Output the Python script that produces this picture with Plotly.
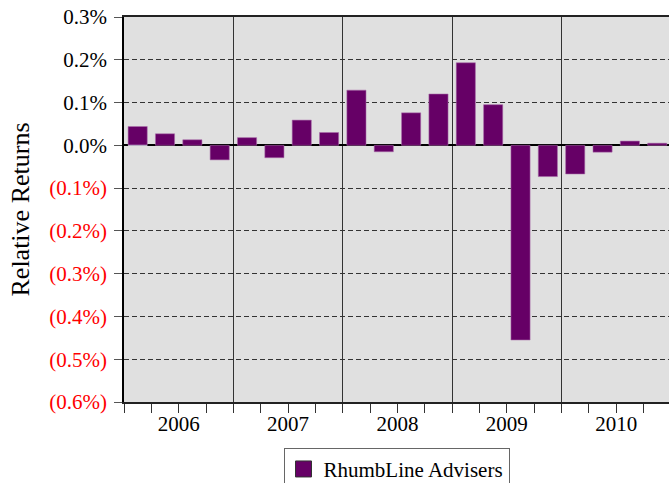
import plotly.graph_objects as go

# Quarterly relative returns (percent), 2006 Q1 through 2010 Q4
years = ["2006", "2007", "2008", "2009", "2010"]
quarters_per_year = 4
returns = [
    0.044, 0.027, 0.013, -0.034,    # 2006
    0.018, -0.029, 0.059, 0.030,    # 2007
    0.129, -0.015, 0.076, 0.120,    # 2008
    0.193, 0.095, -0.455, -0.073,   # 2009
    -0.067, -0.016, 0.010, 0.005,   # 2010
]
series_name = "RhumbLine Advisers"
y_ticks = [0.3, 0.2, 0.1, 0.0, -0.1, -0.2, -0.3, -0.4, -0.5, -0.6]

serif = "Liberation Serif"
bar_color = "#660066"

n = len(returns)
x_pos = list(range(n))
year_bounds = [i * quarters_per_year - 0.5 for i in range(1, len(years))]
quarter_bounds = [i - 0.5 for i in range(n + 1)]
year_centers = [i * quarters_per_year + (quarters_per_year - 1) / 2 for i in range(len(years))]


def fmt(v):
    if v < 0:
        return f'<span style="color:red">({abs(v):.1f}%)</span>'
    return f"{v:.1f}%"


x_range = [-0.5, 19.43]

fig = go.Figure()
fig.add_trace(go.Bar(
    x=x_pos, y=returns, name=series_name, width=0.7, legendgroup="s",
    marker=dict(color=bar_color, line=dict(color="rgba(170,110,170,0.7)", width=0.8)),
    showlegend=False,
))
# legend entry with a larger square swatch
fig.add_trace(go.Scatter(
    x=[None], y=[None], mode="markers", name=series_name, legendgroup="s",
    marker=dict(symbol="square", size=16, color=bar_color, line=dict(color="#333", width=1)),
    showlegend=True,
))

fig.update_layout(
    width=669, height=483,
    margin=dict(l=124, r=0, t=17, b=81, autoexpand=False),
    paper_bgcolor="white", plot_bgcolor="#e0e0e0",
    font=dict(family=serif, size=21, color="black"),
    bargap=0.3,
    xaxis=dict(
        range=x_range, tickmode="array", tickvals=year_bounds,
        showticklabels=False, ticks="outside", ticklen=9, tickcolor="#333",
        showgrid=True, gridcolor="#333", gridwidth=1,
        minor=dict(tickmode="array", tickvals=quarter_bounds, ticks="outside",
                   ticklen=9, tickcolor="#333", showgrid=False),
        zeroline=False, showline=True, linecolor="#222", linewidth=1.5, mirror=True,
    ),
    xaxis2=dict(
        overlaying="x", anchor="y", side="bottom", range=x_range,
        tickmode="array", tickvals=year_centers, ticktext=years,
        ticks="outside", ticklen=3, tickcolor="rgba(0,0,0,0)",
        showgrid=False, zeroline=False, showline=False,
        tickfont=dict(family=serif, size=21, color="black"),
    ),
    yaxis=dict(
        range=[-0.6, 0.3], tickmode="array", tickvals=y_ticks,
        ticktext=[fmt(v) for v in y_ticks],
        ticks="outside", ticklen=8, tickcolor="#555", ticklabelstandoff=3,
        showgrid=True, gridcolor="#333", gridwidth=1, griddash="5px,3px",
        zeroline=True, zerolinecolor="black", zerolinewidth=2,
        showline=True, linecolor="black", linewidth=1.5,
        title=dict(text="Relative Returns", font=dict(family=serif, size=26), standoff=12),
        tickfont=dict(family=serif, size=21),
    ),
    legend=dict(
        orientation="h", x=0.5, xanchor="center", y=-0.119, yanchor="top",
        bordercolor="#666", borderwidth=1, bgcolor="white",
        itemsizing="trace",
        font=dict(family=serif, size=21),
    ),
)

# invisible trace to activate the label axis
fig.add_trace(go.Bar(x=[0], y=[0], xaxis="x2", showlegend=False,
                     marker=dict(color="rgba(0,0,0,0)"), hoverinfo="skip"))

fig.write_html("out.html")
